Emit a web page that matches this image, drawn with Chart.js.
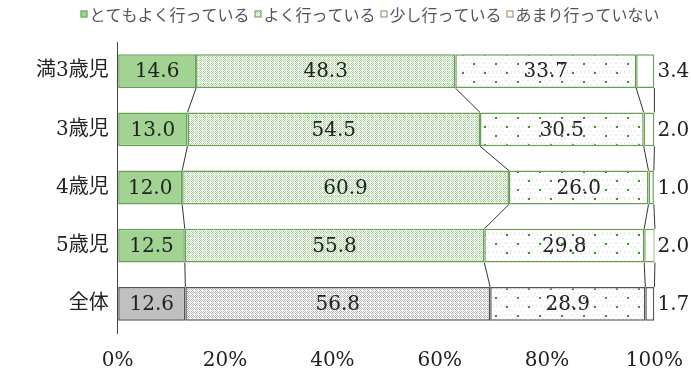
<!DOCTYPE html>
<html>
<head>
<meta charset="utf-8">
<script src="https://cdn.jsdelivr.net/npm/chart.js@4.4.1/dist/chart.umd.min.js"></script>
<style>
  body { margin: 0; background: #fff; }
  #wrap { width: 691px; height: 371px; }
</style>
</head>
<body>
<div id="wrap"><canvas id="barChart"></canvas></div>
<script>
// categories and series (percent)
const categories = ['満3歳児', '3歳児', '4歳児', '5歳児', '全体'];
const seriesNames = ['とてもよく行っている', 'よく行っている', '少し行っている', 'あまり行っていない'];
const veryOften = [14.6, 13.0, 12.0, 12.5, 12.6];
const often = [48.3, 54.5, 60.9, 55.8, 56.8];
const sometimes = [33.7, 30.5, 26.0, 29.8, 28.9];
const rarely = [3.4, 2.0, 1.0, 2.0, 1.7];
const xTicks = [0, 20, 40, 60, 80, 100];

const GREEN = '#a2d392';
const GREEN_LINE = '#67a055';
const GREY = '#c0c0c0';
const GREY_LINE = '#555555';

// little helper to build canvas fill patterns
function makePattern(w, h, draw) {
  const c = document.createElement('canvas');
  c.width = w; c.height = h;
  const g = c.getContext('2d');
  g.fillStyle = '#ffffff';
  g.fillRect(0, 0, w, h);
  draw(g);
  return g.createPattern(c, 'repeat');
}

function checker(color) {
  return makePattern(4, 4, g => {
    g.fillStyle = color;
    for (let y = 0; y < 4; y++) {
      for (let x = 0; x < 4; x++) {
        if ((x + y) % 2 === 0 && !(x === 2 && y === 2)) g.fillRect(x, y, 1, 1);
      }
    }
  });
}

function dots(color) {
  return makePattern(22, 18, g => {
    g.fillStyle = '#f3f3f3';
    for (let y = 0; y < 18; y += 4) {
      for (let x = (y / 4) % 2 ? 2 : 0; x < 22; x += 4) g.fillRect(x, y, 2, 2);
    }
    g.fillStyle = color;
    g.fillRect(0, 0, 2, 2);
    g.fillRect(11, 9, 2, 2);
  });
}

const checkGreen = checker('#a8d89a');
const checkGrey = checker('#b4b4b4');
const dotGreen = dots('#3f8f2f');
const dotGrey = dots('#707070');

function perRow(greenVal, greyVal) {
  return categories.map((c, i) => i === categories.length - 1 ? greyVal : greenVal);
}

const fills = [
  perRow(GREEN, GREY),
  perRow(checkGreen, checkGrey),
  perRow(dotGreen, dotGrey),
  perRow('#ffffff', '#ffffff')
];
const lines = perRow(GREEN_LINE, GREY_LINE);
const values = [veryOften, often, sometimes, rarely];

const valueFont = '20px "DejaVu Serif", serif';

// value labels inside the segments, the last one outside
const labelPlugin = {
  id: 'segLabels',
  afterDatasetsDraw(chart) {
    const ctx = chart.ctx;
    const xs = chart.scales.x;
    ctx.save();
    ctx.font = valueFont;
    ctx.fillStyle = '#222';
    ctx.textBaseline = 'middle';
    chart.data.datasets.forEach((ds, i) => {
      const meta = chart.getDatasetMeta(i);
      meta.data.forEach((bar, j) => {
        const txt = ds.data[j].toFixed(1);
        if (i === chart.data.datasets.length - 1) {
          ctx.textAlign = 'left';
          ctx.fillText(txt, xs.getPixelForValue(100) + 3, bar.y + 1);
        } else {
          ctx.textAlign = 'center';
          ctx.fillText(txt, (bar.x + bar.base) / 2, bar.y + 1);
        }
      });
    });
    ctx.restore();
  }
};

// series lines between neighbouring bars
const seriesLinePlugin = {
  id: 'seriesLines',
  afterDatasetsDraw(chart) {
    const ctx = chart.ctx;
    ctx.save();
    ctx.strokeStyle = '#333';
    ctx.lineWidth = 1;
    chart.data.datasets.forEach((ds, i) => {
      const meta = chart.getDatasetMeta(i);
      for (let j = 0; j < meta.data.length - 1; j++) {
        const a = meta.data[j], b = meta.data[j + 1];
        ctx.beginPath();
        ctx.moveTo(a.x, a.y + a.height / 2);
        ctx.lineTo(b.x, b.y - b.height / 2);
        ctx.stroke();
      }
    });
    ctx.restore();
  }
};

// compact legend like the original (small box, text right next to it)
const legendFills = [GREEN, checkGreen, '#ffffff', '#ffffff'];
const legendPlugin = {
  id: 'tightLegend',
  afterDraw(chart) {
    const ctx = chart.ctx;
    const box = 7, gapIn = 2, gapOut = 5, y = 14;
    ctx.save();
    ctx.font = '16px "Noto Sans CJK JP", sans-serif';
    ctx.textBaseline = 'middle';
    ctx.textAlign = 'left';
    const widths = seriesNames.map(n => box + gapIn + ctx.measureText(n).width);
    const total = widths.reduce((a, b) => a + b, 0) + gapOut * (widths.length - 1);
    let x = 370 - total / 2;
    seriesNames.forEach((name, i) => {
      ctx.fillStyle = legendFills[i];
      ctx.fillRect(x, y - box / 2, box, box);
      ctx.strokeStyle = GREEN_LINE;
      ctx.lineWidth = 1;
      ctx.strokeRect(x + 0.5, y - box / 2 + 0.5, box - 1, box - 1);
      ctx.fillStyle = '#555';
      ctx.fillText(name, x + box + gapIn, y + 1);
      x += widths[i] + gapOut;
    });
    ctx.restore();
  }
};

const ctx = document.getElementById('barChart').getContext('2d');
const chart = new Chart(ctx, {
  type: 'bar',
  data: {
    labels: categories,
    datasets: seriesNames.map((name, i) => ({
      label: name,
      data: values[i],
      backgroundColor: fills[i],
      borderColor: lines,
      borderWidth: 1.5,
      borderSkipped: false,
      barPercentage: 0.58,
      categoryPercentage: 1
    }))
  },
  options: {
    indexAxis: 'y',
    responsive: true,
    maintainAspectRatio: false,
    animation: false,
    layout: { padding: { left: 27, right: 8, top: 42, bottom: -10 } },
    plugins: {
      tooltip: { enabled: false },
      legend: { display: false }
    },
    scales: {
      x: {
        stacked: true,
        min: 0,
        max: 100,
        afterBuildTicks: axis => { axis.ticks = xTicks.map(v => ({ value: v })); },
        // invisible tick marks just to push the labels down
        grid: { display: true, drawOnChartArea: false, drawTicks: true, tickLength: 8, color: 'rgba(0,0,0,0)' },
        border: { display: false },
        ticks: {
          padding: 8,
          color: '#222',
          font: { family: '"DejaVu Serif", serif', size: 20 },
          callback: v => v + '%',
          maxRotation: 0
        }
      },
      y: {
        stacked: true,
        grid: { display: false, drawTicks: false },
        border: { display: true, color: '#444', width: 1 },
        ticks: {
          padding: 9,
          color: '#222',
          font: { family: '"DejaVu Serif", "Noto Sans CJK JP", serif', size: 20 }
        }
      }
    }
  },
  plugins: [seriesLinePlugin, labelPlugin, legendPlugin]
});
</script>
</body>
</html>
